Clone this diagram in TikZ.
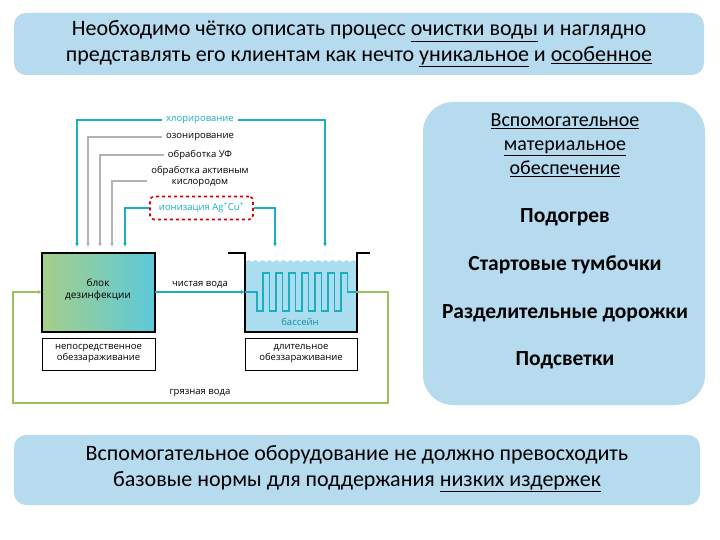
\documentclass[tikz,border=0pt]{standalone}
\usepackage{fontspec}
\setmainfont{Carlito}
\newfontfamily\dg{Open Sans}
\begin{document}
\begin{tikzpicture}[x=1pt,y=-1pt,
  panel/.style={fill=panelblue,rounded corners=12pt},
  lbl/.style={font=\dg\fontsize{9.5}{11}\selectfont,align=center,inner sep=0},
  bw/.style={draw=black,line width=1.8pt},
  tl/.style={draw=teal1,line width=1.4pt,-{Latex[length=4pt,width=4pt]}},
  gl/.style={draw=gray!60,line width=1.2pt,-{Latex[length=4pt,width=4pt]}},
  gr/.style={draw=green1,line width=1.4pt},
  big/.style={font=\fontsize{22}{26}\selectfont,align=center},
  rt/.style={font=\fontsize{20}{24}\selectfont,align=center},
  rb/.style={font=\bfseries\fontsize{21.5}{24}\selectfont,align=center}]
\usetikzlibrary{arrows.meta}
\definecolor{panelblue}{HTML}{B6DAEE}
\definecolor{teal1}{HTML}{1AAFC0}
\definecolor{green1}{HTML}{9DBE5A}
\definecolor{water}{HTML}{ABDDF0}
\definecolor{bgreen}{HTML}{A6CE8A}
\definecolor{bcyan}{HTML}{5CC9DA}
\useasboundingbox (0,0) rectangle (720,540);
% panels
\fill[panel] (14,13) rectangle (704,75);
\node[big] (top) at (359,44) {Необходимо чётко описать процесс \underline{очистки воды} и наглядно\\представлять его клиентам как нечто \underline{уникальное} и \underline{особенное}};
\fill[panelblue,rounded corners=30pt] (423,102) rectangle (705,405);
\node[rt] (r0) at (565,145) {\underline{Вспомогательное}\\\underline{материальное}\\\underline{обеспечение}};
\node[rb] (r1) at (565,217) {Подогрев};
\node[rb] (r2) at (565,265) {Стартовые тумбочки};
\node[rb] (r3) at (565,313) {Разделительные дорожки};
\node[rb] (r4) at (565,360) {Подсветки};
\fill[panel] (14,435) rectangle (700,505);
\node[big] (bot) at (357,469) {Вспомогательное оборудование не должно превосходить\\базовые нормы для поддержания \underline{низких издержек}};
% diagram
\shade[left color=bgreen,right color=bcyan] (42,253) rectangle (155,332);
\node[lbl,font=\dg\fontsize{10}{12}\selectfont] (blk) at (98,290) {блок\\дезинфекции};
\draw[bw] (42,253) rectangle (155,332);
\node[lbl,draw=black,line width=1pt,minimum width=113pt,minimum height=32pt] (n1) at (98.5,354) {непосредственное\\обеззараживание};
% pool
\fill[water] (245,332) -- (245,262) \foreach \i in {0,...,15}{ -- ++(3.5,-2) -- ++(3.5,2)} -- (357,262) -- (357,332) -- cycle;
\draw[bw] (228,253) -- (245,253) -- (245,332) -- (357,332) -- (357,253) -- (370,253);
\node[lbl,text=teal1!80!black] (bas) at (300,322) {бассейн};
\node[lbl,draw=black,line width=1pt,minimum width=112pt,minimum height=32pt] (n2) at (301,354) {длительное\\обеззараживание};
% serpentine
\draw[teal1,line width=1.3pt] (245,292) -- (257,292) -- (257,311) -- (263,311) -- (263,273)
  \foreach \k in {0,...,5}{ -- ++(6.5,0) -- ++(0,38) -- ++(6.5,0) -- ++(0,-38)} -- ++(6.5,0) -- ++(0,19) -- (357,292);
\coordinate (bo) at (155,292);
\coordinate (pi) at (245,292);
\draw[tl] (bo) -- (pi) node[midway,above,lbl,text=black,yshift=3pt] {чистая вода};
% green loop
\coordinate (po) at (357,292);
\coordinate (bi) at (42,292);
\draw[gr,-{Latex[length=4pt,width=4pt]}] (po) -- (388,292) -- (388,403) -- (13,403) -- (13,292) -- (bi);
\node[lbl] (gv) at (200,393) {грязная вода};
% treatments
\node[lbl,text=teal1] (t1) at (200,120) {хлорирование};
\node[lbl] (t2) at (200,137) {озонирование};
\node[lbl] (t3) at (200,155) {обработка УФ};
\node[lbl] (t4) at (200,177) {обработка активным\\кислородом};
\node[lbl,text=teal1,draw=red!85!black,dashed,line width=1.6pt,rounded corners=4pt,minimum width=103pt,minimum height=23pt] (t5) at (201.5,208) {ионизация Ag\textsuperscript{+}Cu\textsuperscript{+}};
\draw[tl] (t1.west) ++(-4,0) -- (77,120) -- (77,247);
\draw[tl] (t1.east) ++(4,0) -- (325,120) -- (325,247);
\draw[gl] (t2.west) ++(-4,0) -- (88,137) -- (88,247);
\draw[gl] (t3.west) ++(-4,0) -- (100,155) -- (100,247);
\draw[gl] (t4.west|-0,181) ++(-4,0) -- (112,181) -- (112,247);
\draw[tl] (t5.west) -- (125,208) -- (125,247);
\draw[tl] (t5.east) -- (275,208) -- (275,247);
\end{tikzpicture}
\end{document}
